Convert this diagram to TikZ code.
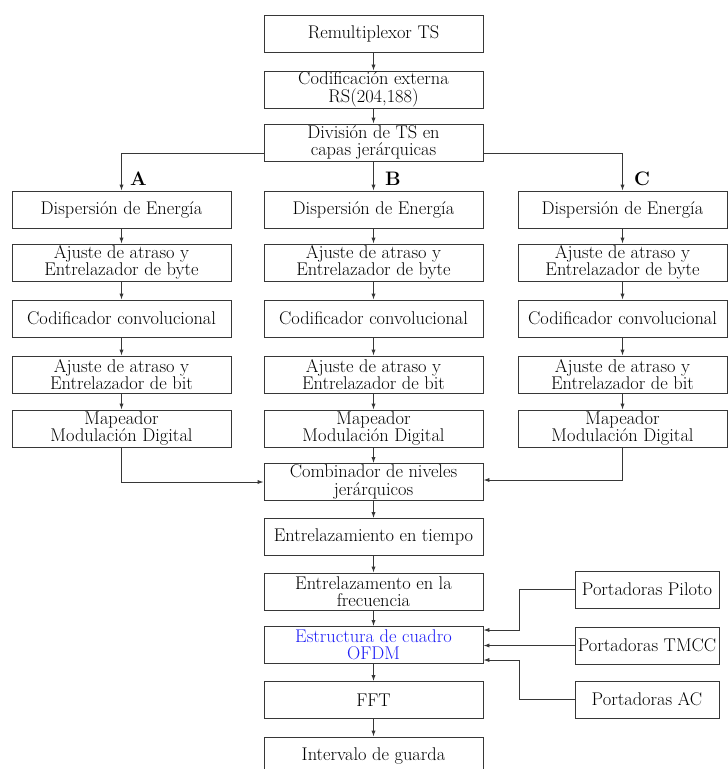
\documentclass[tikz,border=0pt]{standalone}
\usepackage{fontspec}
\usetikzlibrary{arrows.meta}
\definecolor{edge}{RGB}{55,55,55}
\definecolor{ofdmblue}{RGB}{30,30,245}
\tikzset{
  blk/.style={draw=edge, line width=0.9pt, minimum height=37pt, inner sep=1pt,
    align=center, font=\fontsize{18.4}{17.5}\selectfont},
  wide/.style={blk, minimum width=219pt},
  sidebox/.style={blk, minimum width=144pt},
  flow/.style={draw=edge, line width=0.9pt, -{Latex[length=6pt,width=4.2pt]}},
  branch/.style={font=\fontsize{19.5}{19.5}\selectfont\bfseries, anchor=west, inner sep=0pt}
}
\begin{document}
\begin{tikzpicture}[x=1pt,y=-1pt]
\clip (0,0) rectangle (728,769);

% main chain, top
\node[wide] (rem) at (373.5,33.5) {Remultiplexor TS};
\node[wide] (cod) at (373.5,89.5) {Codificación externa\\RS(204,188)};
\node[wide] (div) at (373.5,142.5) {División de TS en\\capas jerárquicas};

% layer A
\node[wide] (dA) at (121.5,209.5) {Dispersión de Energía};
\node[wide] (yA) at (121.5,262.5) {Ajuste de atraso y\\Entrelazador de byte};
\node[wide] (cA) at (121.5,318.5) {Codificador convolucional};
\node[wide] (bA) at (121.5,374.5) {Ajuste de atraso y\\Entrelazador de bit};
\node[wide] (mA) at (121.5,428.5) {Mapeador\\Modulación Digital};

% layer B
\node[wide] (dB) at (373.5,209.5) {Dispersión de Energía};
\node[wide] (yB) at (373.5,262.5) {Ajuste de atraso y\\Entrelazador de byte};
\node[wide] (cB) at (373.5,318.5) {Codificador convolucional};
\node[wide] (bB) at (373.5,374.5) {Ajuste de atraso y\\Entrelazador de bit};
\node[wide] (mB) at (373.5,428.5) {Mapeador\\Modulación Digital};

% layer C
\node[blk, minimum width=209pt] (dC) at (622.5,209.5) {Dispersión de Energía};
\node[blk, minimum width=209pt] (yC) at (622.5,262.5) {Ajuste de atraso y\\Entrelazador de byte};
\node[blk, minimum width=209pt] (cC) at (622.5,318.5) {Codificador convolucional};
\node[blk, minimum width=209pt] (bC) at (622.5,374.5) {Ajuste de atraso y\\Entrelazador de bit};
\node[blk, minimum width=209pt] (mC) at (622.5,428.5) {Mapeador\\Modulación Digital};

% main chain, bottom
\node[wide] (comb) at (373.5,482) {Combinador de niveles\\jerárquicos};
\node[wide] (tie) at (373.5,537) {Entrelazamiento en tiempo};
\node[wide] (fre) at (373.5,591.5) {Entrelazamento en la\\frecuencia};
\node[wide, text=ofdmblue] (est) at (373.5,645) {Estructura de cuadro\\OFDM};
\node[wide] (fft) at (373.5,700) {FFT};
\node[wide] (gua) at (373.5,755.5) {Intervalo de guarda};

% carriers
\node[sidebox] (pil) at (647,589.5) {Portadoras Piloto};
\node[sidebox] (tmc) at (647,645.5) {Portadoras TMCC};
\node[sidebox] (acc) at (647,699.5) {Portadoras AC};

% layer labels
\node[branch] (lA) at (130,179) {A};
\node[branch] (lB) at (385,179) {B};
\node[branch] (lC) at (634,179) {C};

% connectors
\draw[flow] (rem) -- (cod);
\draw[flow] (cod) -- (div);
\draw[flow] (div.west |- 0,153.5) -| (dA.north);
\draw[flow] (div) -- (dB);
\draw[flow] (div.east |- 0,153.5) -| (dC.north);
\foreach \c in {A,B,C}{
  \draw[flow] (d\c) -- (y\c);
  \draw[flow] (y\c) -- (c\c);
  \draw[flow] (c\c) -- (b\c);
  \draw[flow] (b\c) -- (m\c);
}
\draw[flow] (mA.south) |- (comb.west);
\draw[flow] (mB) -- (comb);
\draw[flow] (mC.south) |- ([yshift=2pt]comb.east);
\draw[flow] (comb) -- (tie);
\draw[flow] (tie) -- (fre);
\draw[flow] (fre) -- (est);
\draw[flow] (est) -- (fft);
\draw[flow] (fft) -- (gua);
\coordinate (jp) at (519,589.5);
\coordinate (ja) at (519,699.5);
\draw[flow] (pil.west) -- (jp) |- ([yshift=15pt]est.east);
\draw[flow] (tmc.west) -- (est.east |- tmc.west);
\draw[flow] (acc.west) -- (ja) |- ([yshift=-15pt]est.east);
\end{tikzpicture}
\end{document}
